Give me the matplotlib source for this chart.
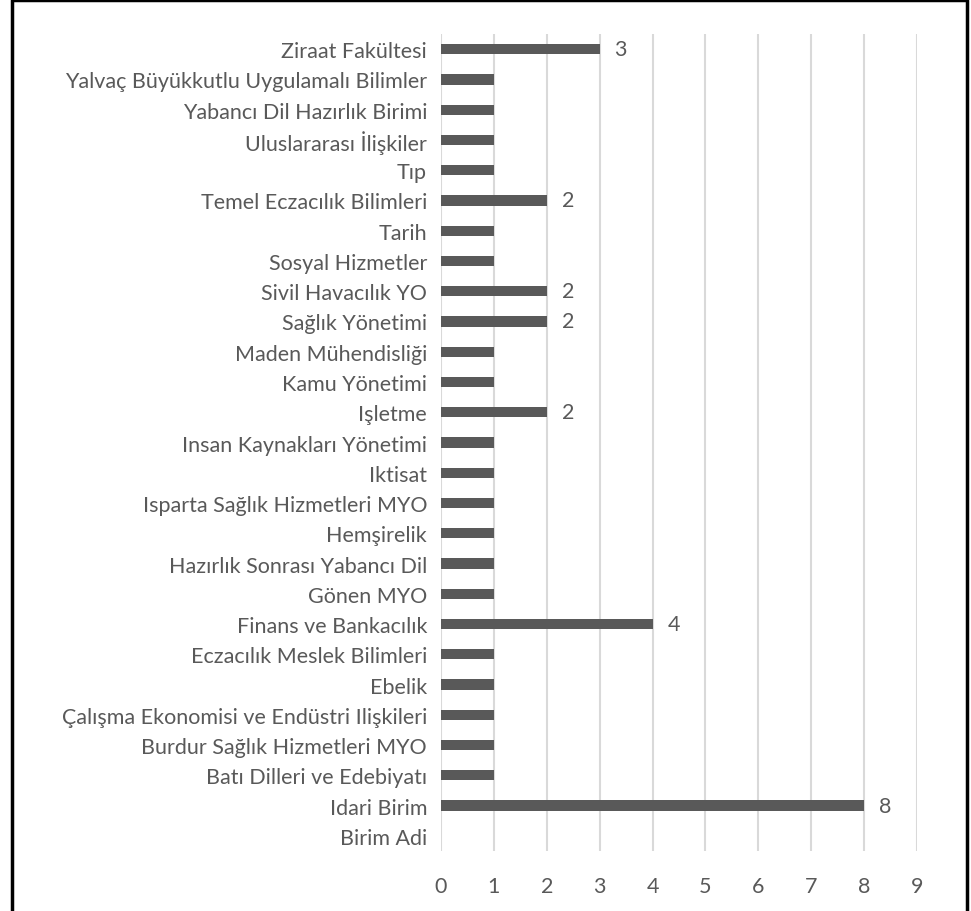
import matplotlib
matplotlib.use('Agg')
import matplotlib.pyplot as plt
from matplotlib.lines import Line2D

# birimler (yukarıdan aşağıya)
birimler = [
    'Ziraat Fakültesi',
    'Yalvaç Büyükkutlu Uygulamalı Bilimler',
    'Yabancı Dil Hazırlık Birimi',
    'Uluslararası İlişkiler',
    'Tıp',
    'Temel Eczacılık Bilimleri',
    'Tarih',
    'Sosyal Hizmetler',
    'Sivil Havacılık YO',
    'Sağlık Yönetimi',
    'Maden Mühendisliği',
    'Kamu Yönetimi',
    'Işletme',
    'Insan Kaynakları Yönetimi',
    'Iktisat',
    'Isparta Sağlık Hizmetleri MYO',
    'Hemşirelik',
    'Hazırlık Sonrası Yabancı Dil',
    'Gönen MYO',
    'Finans ve Bankacılık',
    'Eczacılık Meslek Bilimleri',
    'Ebelik',
    'Çalışma Ekonomisi ve Endüstri Ilişkileri',
    'Burdur Sağlık Hizmetleri MYO',
    'Batı Dilleri ve Edebiyatı',
    'Idari Birim',
    'Birim Adi',
]
sayilar = [3, 1, 1, 1, 1, 2, 1, 1, 2, 2, 1, 1, 2, 1, 1, 1, 1, 1, 1, 4, 1, 1, 1, 1, 1, 8, 0]
x_ticks = list(range(0, 10))

gri = '#595959'
plt.rcParams['font.family'] = ['Lato', 'DejaVu Sans']

fig = plt.figure(figsize=(9.71, 9.12), dpi=100)
ax = fig.add_axes([441/971, 1 - 852/912, (917 - 441)/971, (852 - 35)/912])

y = list(range(len(birimler)))[::-1]
ax.barh(y, sayilar, height=0.34, color=gri, zorder=3)

for yi, v in zip(y, sayilar):
    if v > 1:
        ax.text(v + 0.28, yi, str(v), va='center', ha='left', fontsize=15.5, color=gri)

ax.set_yticks(y)
ax.set_yticklabels(birimler, fontsize=15.5, color=gri)
ax.set_ylim(-0.5, len(birimler) - 0.5)
ax.set_xlim(0, 9)
ax.set_xticks(x_ticks)
ax.set_xticklabels([str(t) for t in x_ticks], fontsize=15.5, color=gri)
ax.tick_params(axis='y', length=0, pad=10)
ax.tick_params(axis='x', length=0, pad=18)
ax.grid(axis='x', color='#d9d9d9', linewidth=1.5, zorder=0)
for s in ax.spines.values():
    s.set_visible(False)

# çerçeve (sol, üst, sağ)
fx = [12/971, 12/971, 967/971, 967/971]
fy = [0, 0.999, 0.999, 0]
fig.lines.append(Line2D(fx, fy, transform=fig.transFigure, color='black', linewidth=2.5))

fig.savefig('out.png', dpi=100)
